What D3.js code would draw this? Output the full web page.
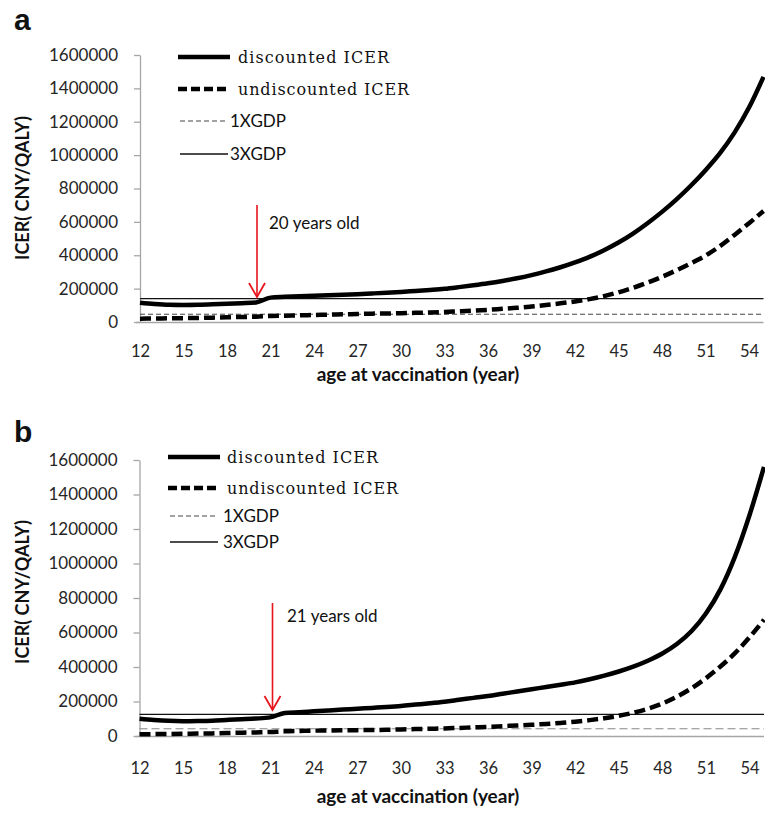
<!DOCTYPE html>
<html>
<head>
<meta charset="utf-8">
<script src="https://cdn.jsdelivr.net/npm/d3@7"></script>
<style>
  body { margin: 0; background: #fff; }
  svg { display: block; }
</style>
</head>
<body>
<div id="chart"></div>
<script>
// ages 12..55
const ages = d3.range(12, 56)
const xTicks = d3.range(12, 55, 3)
const yTicks = [0, 200000, 400000, 600000, 800000, 1000000, 1200000, 1400000, 1600000]

// panel a
const discountedA = [116000, 108000, 103000, 102000, 103000, 106000, 110000, 113000, 117000, 146000,
  151000, 155000, 158000, 161000, 164000, 167000, 171000, 175000, 180000, 186000,
  192000, 199000, 209000, 220000, 232000, 246000, 262000, 281000, 303000, 328000,
  357000, 390000, 430000, 476000, 530000, 592000, 660000, 735000, 818000, 910000,
  1012000, 1135000, 1285000, 1469000]
const undiscountedA = [20000, 21000, 22000, 23000, 24000, 26000, 28000, 30000, 32000, 36000,
  38000, 40000, 42000, 44000, 46000, 48000, 50000, 51000, 53000, 55000,
  57000, 60000, 64000, 68000, 73000, 79000, 85000, 93000, 102000, 112000,
  123000, 137000, 155000, 178000, 205000, 236000, 271000, 310000, 352000, 398000,
  455000, 522000, 592000, 665000]
const gdpA = 46629

// panel b
const discountedB = [100000, 93000, 88000, 86000, 87000, 89000, 93000, 97000, 101000, 108000,
  133000, 138000, 143000, 148000, 153000, 158000, 163000, 168000, 174000, 182000,
  190000, 199000, 210000, 221000, 232000, 245000, 258000, 271000, 284000, 297000,
  311000, 329000, 350000, 374000, 402000, 436000, 478000, 533000, 607000, 710000,
  850000, 1040000, 1280000, 1560000]
const undiscountedB = [10000, 11000, 12000, 13000, 14000, 15000, 17000, 19000, 21000, 23000,
  27000, 29000, 31000, 32000, 33000, 34000, 35000, 36000, 38000, 40000,
  42000, 44000, 47000, 50000, 53000, 57000, 61000, 65000, 70000, 76000,
  83000, 92000, 103000, 117000, 135000, 158000, 188000, 228000, 276000, 335000,
  403000, 480000, 572000, 674000]
const gdpB = 41908

const legendNames = ["discounted ICER", "undiscounted ICER", "1XGDP", "3XGDP"]

const W = 765, H = 813
const sans = "Lato, 'Open Sans', sans-serif"
const serif = "'DejaVu Serif', 'Liberation Serif', serif"

const svg = d3.select("#chart").append("svg")
  .attr("width", W)
  .attr("height", H)

const panels = [
  {
    label: "a", labelY: 30,
    top: 55, bottom: 322, left: 140, right: 763.5,
    disc: discountedA, undisc: undiscountedA, gdp: gdpA,
    arrowX: 257, arrowTop: 205, arrowTip: 297,
    note: "20 years old", noteX: 269, noteY: 223,
    legX: 178, legTextX: 238, legSmallX: 230, legY: [57, 89, 121, 154],
    legW: [151, 171],
    tickPad: 23, titleY: 381, yTitleY: 188, gdpDash: "5,3", gdpColor: "#444"
  },
  {
    label: "b", labelY: 442,
    top: 460, bottom: 736, left: 139.5, right: 764,
    disc: discountedB, undisc: undiscountedB, gdp: gdpB,
    arrowX: 272.5, arrowTop: 603, arrowTip: 710,
    note: "21 years old", noteX: 287, noteY: 616,
    legX: 168, legTextX: 227, legSmallX: 223, legY: [457, 488, 516, 542],
    legW: [151, 171],
    tickPad: 26, titleY: 803, yTitleY: 592, gdpDash: "8,4", gdpColor: "#888"
  }
]

panels.forEach(p => drawPanel(p))

function drawPanel(p) {
  const g = svg.append("g")

  const x = d3.scaleLinear().domain([12, 55]).range([p.left, p.right])
  const y = d3.scaleLinear().domain([0, 1600000]).range([p.bottom, p.top])

  // panel letter
  g.append("text")
    .attr("x", 14)
    .attr("y", p.labelY)
    .style("font", "bold 30px 'Liberation Sans', Arial, sans-serif")
    .attr("fill", "#111")
    .text(p.label)

  // y axis
  const yAxis = g.append("g")
    .attr("transform", `translate(${p.left},0)`)
    .call(d3.axisLeft(y).tickValues(yTicks).tickFormat(d3.format("d"))
      .tickSize(6).tickSizeOuter(0).tickPadding(16))
  yAxis.selectAll("path, line").attr("stroke", "#a6a6a6").attr("stroke-width", 1.3)
  yAxis.selectAll("text")
    .style("font", `17px ${sans}`)
    .attr("fill", "#262626")

  // x axis
  const xAxis = g.append("g")
    .attr("transform", `translate(0,${p.bottom})`)
    .call(d3.axisBottom(x).tickValues(xTicks).tickSize(0).tickPadding(p.tickPad))
  xAxis.select("path").attr("stroke", "#a6a6a6").attr("stroke-width", 1.5)
    .attr("d", `M${p.left - 4},0.5H${p.right}`)
  xAxis.selectAll("text")
    .style("font", `16.5px ${sans}`)
    .attr("fill", "#262626")

  // axis titles
  g.append("text")
    .attr("x", 418)
    .attr("y", p.titleY)
    .attr("text-anchor", "middle")
    .style("font", `bold 19px ${sans}`)
    .attr("fill", "#111")
    .text("age at vaccination (year)")

  g.append("text")
    .attr("transform", `translate(29,${p.yTitleY}) rotate(-90)`)
    .attr("text-anchor", "middle")
    .style("font", `bold 18px ${sans}`)
    .attr("fill", "#111")
    .text("ICER( CNY/QALY)")

  // GDP thresholds
  g.append("line")
    .attr("x1", p.left).attr("x2", p.right)
    .attr("y1", y(p.gdp)).attr("y2", y(p.gdp))
    .attr("stroke", p.gdpColor)
    .attr("stroke-width", 1)
    .attr("stroke-dasharray", p.gdpDash)

  g.append("line")
    .attr("x1", p.left).attr("x2", p.right)
    .attr("y1", y(p.gdp * 3)).attr("y2", y(p.gdp * 3))
    .attr("stroke", "#111")
    .attr("stroke-width", 1.3)

  // ICER curves
  const line = d3.line()
    .x((d, i) => x(ages[i]))
    .y(d => y(d))
    .curve(d3.curveMonotoneX)

  g.append("path")
    .datum(p.undisc)
    .attr("d", line)
    .attr("fill", "none")
    .attr("stroke", "#000")
    .attr("stroke-width", 4.5)
    .attr("stroke-dasharray", "11,5")

  g.append("path")
    .datum(p.disc)
    .attr("d", line)
    .attr("fill", "none")
    .attr("stroke", "#000")
    .attr("stroke-width", 4.5)

  // red arrow
  g.append("line")
    .attr("x1", p.arrowX).attr("x2", p.arrowX)
    .attr("y1", p.arrowTop).attr("y2", p.arrowTip)
    .attr("stroke", "#e8141c")
    .attr("stroke-width", 1.6)
  g.append("path")
    .attr("d", `M${p.arrowX - 8},${p.arrowTip - 14}L${p.arrowX},${p.arrowTip}L${p.arrowX + 8},${p.arrowTip - 14}`)
    .attr("fill", "none")
    .attr("stroke", "#e8141c")
    .attr("stroke-width", 1.8)

  g.append("text")
    .attr("x", p.noteX)
    .attr("y", p.noteY)
    .attr("dy", "0.35em")
    .style("font", `17px ${sans}`)
    .attr("fill", "#111")
    .text(p.note)

  // legend
  const leg = g.append("g")
  const styles = [
    { w: 4.5, dash: null, color: "#000", len: 52 },
    { w: 4.5, dash: "9,4", color: "#000", len: 52 },
    { w: 1, dash: "5,3", color: "#444", len: 48 },
    { w: 1.4, dash: null, color: "#111", len: 48 }
  ]
  legendNames.forEach((name, i) => {
    const s = styles[i]
    const x0 = i < 2 ? p.legX : p.legX + 2
    leg.append("line")
      .attr("x1", x0).attr("x2", x0 + s.len)
      .attr("y1", p.legY[i]).attr("y2", p.legY[i])
      .attr("stroke", s.color)
      .attr("stroke-width", s.w)
      .attr("stroke-dasharray", s.dash)
    const t = leg.append("text")
      .attr("y", p.legY[i])
      .attr("dy", "0.35em")
      .attr("fill", "#111")
      .text(name)
    if (i < 2) {
      t.attr("x", p.legTextX)
        .style("font", `16px ${serif}`)
        .attr("textLength", p.legW[i])
        .attr("lengthAdjust", "spacing")
    } else {
      t.attr("x", p.legSmallX)
        .style("font", `17px ${sans}`)
    }
  })
}
</script>
</body>
</html>
